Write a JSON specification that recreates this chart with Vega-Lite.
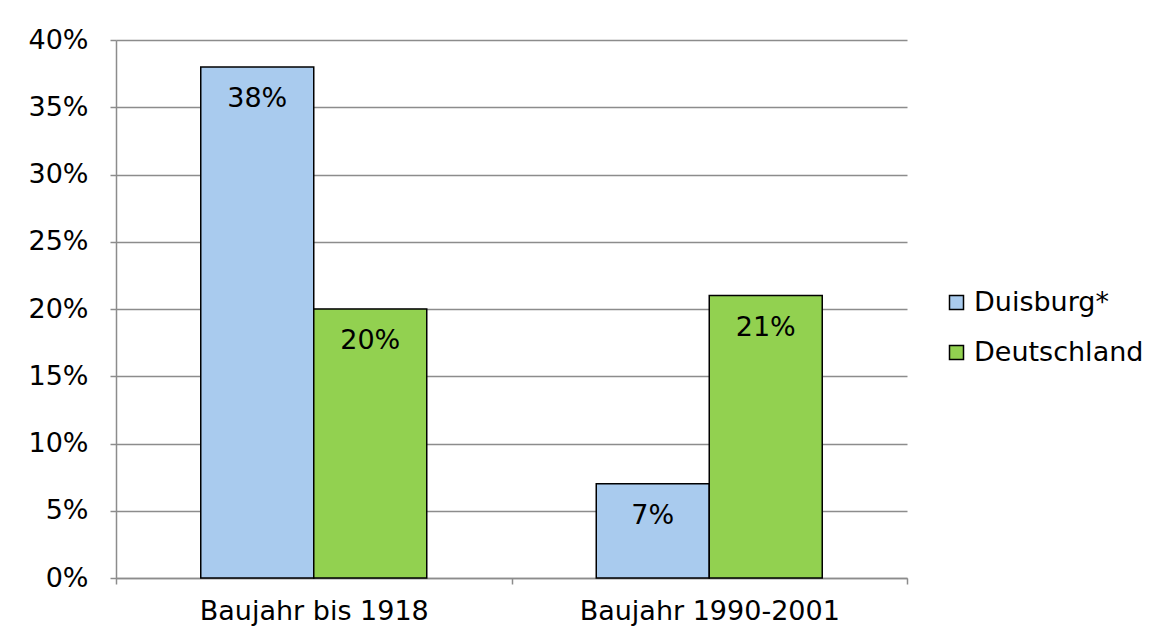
{
  "$schema": "https://vega.github.io/schema/vega-lite/v6.json",
  "width": 791,
  "height": 538,
  "autosize": "none",
  "padding": {"left": 116, "top": 40, "right": 246, "bottom": 61},
  "background": "white",
  "config": {
    "font": "DejaVu Sans",
    "view": {"stroke": null},
    "axis": {"labelFont": "DejaVu Sans", "labelFontSize": 27, "labelLimit": 0, "labelColor": "#000000", "domainColor": "#8c8c8c", "tickColor": "#8c8c8c", "gridColor": "#8c8c8c", "domainWidth": 1.5, "tickWidth": 1.5, "gridWidth": 1.5, "tickSize": 6}
  },
  "data": {
    "values": [
      {"kategorie": "Baujahr bis 1918", "gebiet": "Duisburg*", "anteil": 0.38},
      {"kategorie": "Baujahr bis 1918", "gebiet": "Deutschland", "anteil": 0.20},
      {"kategorie": "Baujahr 1990-2001", "gebiet": "Duisburg*", "anteil": 0.07},
      {"kategorie": "Baujahr 1990-2001", "gebiet": "Deutschland", "anteil": 0.21}
    ]
  },
  "encoding": {
    "x": {"field": "kategorie", "type": "nominal", "sort": ["Baujahr bis 1918", "Baujahr 1990-2001"],
      "scale": {"paddingInner": 0, "paddingOuter": 0},
      "axis": {"title": null, "labelAngle": 0, "tickBand": "extent", "labelPadding": 14, "grid": false}},
    "xOffset": {"field": "gebiet", "type": "nominal", "sort": ["Duisburg*", "Deutschland"],
      "scale": {"paddingInner": 0, "paddingOuter": 0.75}},
    "y": {"field": "anteil", "type": "quantitative",
      "scale": {"domain": [0, 0.4], "nice": false},
      "axis": {"title": null, "format": ".0%", "values": [0, 0.05, 0.1, 0.15, 0.2, 0.25, 0.3, 0.35, 0.4], "labelPadding": 22, "grid": true}}
  },
  "layer": [
    {
      "mark": {"type": "bar", "stroke": "#000000", "strokeWidth": 1.5},
      "encoding": {
        "color": {"field": "gebiet", "type": "nominal", "sort": ["Duisburg*", "Deutschland"],
          "scale": {"domain": ["Duisburg*", "Deutschland"], "range": ["#a9cbee", "#92d150"]},
          "legend": {"title": null, "orient": "none", "legendX": 827, "legendY": 249, "symbolType": "square", "symbolSize": 196, "symbolStrokeColor": "#000000", "symbolStrokeWidth": 1.5, "labelFontSize": 27, "labelFont": "DejaVu Sans", "labelColor": "#000000", "labelLimit": 0, "rowPadding": 22, "labelOffset": 4}}
      }
    },
    {
      "mark": {"type": "text", "baseline": "middle", "dy": 32, "fontSize": 27, "font": "DejaVu Sans", "color": "#000000"},
      "encoding": {"text": {"field": "anteil", "type": "quantitative", "format": ".0%"}}
    }
  ]
}
